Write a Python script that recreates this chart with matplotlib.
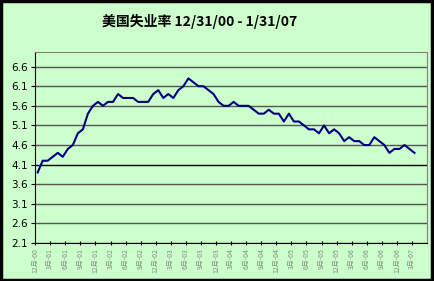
import matplotlib.pyplot as plt
from matplotlib.patches import Rectangle

plt.rcParams['font.family'] = ['Noto Sans CJK SC', 'DejaVu Sans']

# monthly rate, Dec 2000 .. Mar 2007
rate = [3.9, 4.2, 4.2, 4.3, 4.4, 4.3, 4.5, 4.6, 4.9, 5.0, 5.4, 5.6,
        5.7, 5.6, 5.7, 5.7, 5.9, 5.8, 5.8, 5.8, 5.7, 5.7, 5.7, 5.9,
        6.0, 5.8, 5.9, 5.8, 6.0, 6.1, 6.3, 6.2, 6.1, 6.1, 6.0, 5.9,
        5.7, 5.6, 5.6, 5.7, 5.6, 5.6, 5.6, 5.5, 5.4, 5.4, 5.5, 5.4,
        5.4, 5.2, 5.4, 5.2, 5.2, 5.1, 5.0, 5.0, 4.9, 5.1, 4.9, 5.0,
        4.9, 4.7, 4.8, 4.7, 4.7, 4.6, 4.6, 4.8, 4.7, 4.6, 4.4, 4.5,
        4.5, 4.6, 4.5, 4.4]

x_labels = ['12月-00', '3月-01', '6月-01', '9月-01', '12月-01', '3月-02', '6月-02',
            '9月-02', '12月-02', '3月-03', '6月-03', '9月-03', '12月-03', '3月-04',
            '6月-04', '9月-04', '12月-04', '3月-05', '6月-05', '9月-05', '12月-05',
            '3月-06', '6月-06', '9月-06', '12月-06', '3月-07']
y_ticks = [2.1, 2.6, 3.1, 3.6, 4.1, 4.6, 5.1, 5.6, 6.1, 6.6]

bg = '#ccffcc'
fig = plt.figure(figsize=(4.34, 2.81), dpi=100, facecolor=bg)
ax = fig.add_axes([0.081, 0.135, 0.903, 0.681], facecolor=bg)

for yv in y_ticks:
    ax.axhline(yv, color='#000000' if yv == 4.1 else '#555555', lw=1.0, zorder=1)

ax.plot(range(len(rate)), rate, color='#000080', lw=1.5, zorder=3)

ax.set_xlim(-0.5, 77.5)
ax.set_ylim(2.1, 6.98)
ax.set_yticks(y_ticks)
ax.set_yticklabels([f'{v:.1f}' for v in y_ticks], fontsize=7.5, family='DejaVu Sans')
ax.set_xticks([3 * i - 0.5 for i in range(len(x_labels))])
ax.set_xticklabels(x_labels, rotation=90, fontsize=5, color='#7f8f7f')
ax.tick_params(axis='y', length=3, width=0.8, pad=2)
ax.tick_params(axis='x', length=3, width=0.8, direction='inout', pad=2)

for s in ['top', 'right']:
    ax.spines[s].set_color('#808080')
for s in ['left', 'bottom']:
    ax.spines[s].set_color('#000000')

fig.text(0.46, 0.925, '美国失业率 12/31/00 - 1/31/07', ha='center', va='center',
         fontsize=10, fontweight='bold')

fig.patches.append(Rectangle((0.002, 0.004), 0.993, 0.993, transform=fig.transFigure,
                             fill=False, edgecolor='black', lw=2.5))

fig.savefig('out.png', dpi=100, facecolor=bg)
